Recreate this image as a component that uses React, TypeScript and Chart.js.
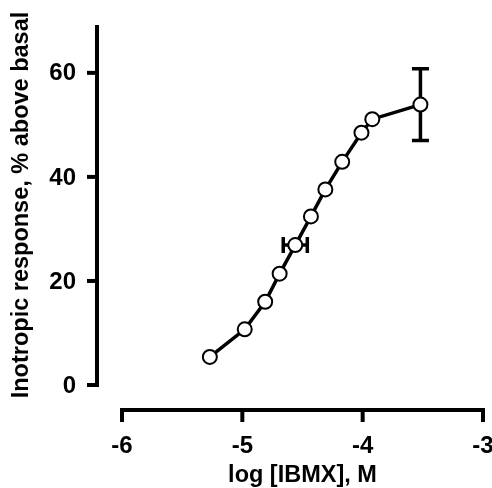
import React, { useEffect, useRef } from "react";
import { Chart, registerables } from "chart.js";

Chart.register(...registerables);

// ---- data ----
const logConc = [-5.27, -4.98, -4.81, -4.69, -4.56, -4.43, -4.31, -4.17, -4.01, -3.92, -3.52];
const response = [5.4, 10.7, 16.0, 21.4, 26.9, 32.4, 37.6, 42.9, 48.5, 51.1, 53.9];
const responseErr = [0, 0, 0, 0, 0, 0, 0, 0, 0, 0, 6.9];
const concErr = [0, 0, 0, 0, 0.1, 0, 0, 0, 0, 0, 0];
const xTicks = [-6, -5, -4, -3];
const yTicks = [0, 20, 40, 60];
const xTitle = "log [IBMX], M";
const yTitle = "Inotropic response, % above basal";

const FONT = '"Liberation Sans", Arial, Helvetica, sans-serif';

const offsetAxesPlugin = {
  id: "offsetAxes",
  beforeDatasetsDraw(chart: any) {
    const ctx = chart.ctx as CanvasRenderingContext2D;
    const xs = chart.scales.x;
    const ys = chart.scales.y;
    const area = chart.chartArea;
    const yAxisX = area.left - 25;
    const xAxisY = area.bottom + 25;
    ctx.save();
    ctx.strokeStyle = "#000";
    ctx.fillStyle = "#000";
    ctx.lineWidth = 4;
    ctx.lineCap = "butt";
    ctx.lineJoin = "miter";

    // y axis line
    ctx.beginPath();
    ctx.moveTo(yAxisX, area.top);
    ctx.lineTo(yAxisX, ys.getPixelForValue(0) + 2);
    ctx.stroke();
    // y ticks + labels
    ctx.font = `bold 24px ${FONT}`;
    ctx.textAlign = "right";
    ctx.textBaseline = "middle";
    yTicks.forEach((v) => {
      const py = ys.getPixelForValue(v);
      ctx.beginPath();
      ctx.moveTo(yAxisX + 2, py);
      ctx.lineTo(yAxisX - 10, py);
      ctx.stroke();
      ctx.fillText(String(v), yAxisX - 21, py + 1);
    });

    // x axis line
    const x0 = xs.getPixelForValue(xTicks[0]);
    const x1 = xs.getPixelForValue(xTicks[xTicks.length - 1]);
    ctx.beginPath();
    ctx.moveTo(x0 - 2, xAxisY);
    ctx.lineTo(x1 + 2, xAxisY);
    ctx.stroke();
    ctx.textAlign = "center";
    xTicks.forEach((v) => {
      const px = xs.getPixelForValue(v);
      ctx.beginPath();
      ctx.moveTo(px, xAxisY - 2);
      ctx.lineTo(px, xAxisY + 12);
      ctx.stroke();
      ctx.fillText(String(v), px, xAxisY + 36);
    });

    // titles
    ctx.font = `bold 23.5px ${FONT}`;
    ctx.textAlign = "center";
    ctx.textBaseline = "alphabetic";
    ctx.fillText(xTitle, (x0 + x1) / 2, xAxisY + 72);
    ctx.save();
    ctx.translate(28, (area.top + area.bottom) / 2);
    ctx.rotate(-Math.PI / 2);
    ctx.fillText(yTitle, 0, 0);
    ctx.restore();

    // error bars (behind the points)
    ctx.lineWidth = 3.5;
    logConc.forEach((xv, i) => {
      const px = xs.getPixelForValue(xv);
      const py = ys.getPixelForValue(response[i]);
      const ey = responseErr[i];
      if (ey > 0) {
        const top = ys.getPixelForValue(response[i] + ey);
        const bot = ys.getPixelForValue(response[i] - ey);
        ctx.beginPath();
        ctx.moveTo(px, top);
        ctx.lineTo(px, bot);
        ctx.moveTo(px - 8.5, top);
        ctx.lineTo(px + 8.5, top);
        ctx.moveTo(px - 8.5, bot);
        ctx.lineTo(px + 8.5, bot);
        ctx.stroke();
      }
      const ex = concErr[i];
      if (ex > 0) {
        const l = xs.getPixelForValue(xv - ex);
        const r = xs.getPixelForValue(xv + ex);
        ctx.beginPath();
        ctx.moveTo(l, py);
        ctx.lineTo(r, py);
        ctx.moveTo(l, py - 8);
        ctx.lineTo(l, py + 8);
        ctx.moveTo(r, py - 8);
        ctx.lineTo(r, py + 8);
        ctx.stroke();
      }
    });
    ctx.restore();
  },
};

export default function App() {
  const canvasRef = useRef<HTMLCanvasElement | null>(null);

  useEffect(() => {
    if (!canvasRef.current) return;
    const chart = new Chart(canvasRef.current, {
      type: "line",
      data: {
        datasets: [
          {
            data: logConc.map((x, i) => ({ x, y: response[i] })),
            borderColor: "#000",
            borderWidth: 3.5,
            pointRadius: 7,
            pointBorderWidth: 2,
            pointBackgroundColor: "#fff",
            pointBorderColor: "#000",
            tension: 0,
            clip: false as any,
          },
        ],
      },
      options: {
        responsive: false,
        animation: false,
        devicePixelRatio: 1,
        layout: { padding: { left: 122, right: 7, top: 25, bottom: 103 } },
        plugins: { legend: { display: false }, tooltip: { enabled: false } },
        scales: {
          x: { type: "linear", min: -6, max: -3, display: false },
          y: { type: "linear", min: 0, max: 69.2, display: false },
        },
      },
      plugins: [offsetAxesPlugin],
    });
    return () => chart.destroy();
  }, []);

  return (
    <div style={{ position: "absolute", left: 0, top: 0, width: 492, height: 488, background: "#fff" }}>
      <canvas ref={canvasRef} width={492} height={488} />
    </div>
  );
}
